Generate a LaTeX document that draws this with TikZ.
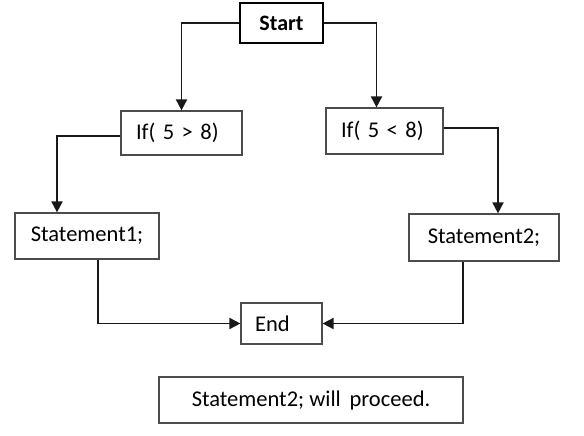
\documentclass[tikz,border=0pt]{standalone}
\usepackage{fontspec}
\setmainfont{Carlito}
\usepackage{tikz}
\usetikzlibrary{arrows.meta,positioning,calc}
\newcommand{\narrowspace}{\spaceskip=0.12em\relax}

\begin{document}
\begin{tikzpicture}[
    x=1pt, y=-1pt,
    box/.style={rectangle, draw=black!70, line width=1.2pt, inner sep=0pt, font=\fontsize{22.5}{26}\selectfont},
    startbox/.style={rectangle, draw=black, line width=2.8pt, inner sep=0pt, font=\fontsize{22}{26}\selectfont\bfseries},
    leftbox/.style={box, inner xsep=15pt, align=left, font=\fontsize{22.5}{26}\selectfont\narrowspace},
    flow/.style={draw=black!90, line width=1.8pt, -{Triangle[length=11pt, width=11pt]}}
]
\useasboundingbox (0,0) rectangle (584,436);

% Start
\node[startbox, minimum width=83pt, minimum height=40pt] (start) at (281.5,23) {Start};

% Conditions
\node[leftbox, text width=91pt, minimum height=44pt] (ifa) at (181.5,133) {If( 5 > 8)};
\node[leftbox, text width=87pt, minimum height=46pt] (ifb) at (384.5,131) {If( 5 < 8)};

% Statements
\node[box, minimum width=144pt, minimum height=46pt] (stmta) at (87,236) {Statement1;};
\node[box, minimum width=150pt, minimum height=47pt] (stmtb) at (484,237.5) {Statement2;};

% End
\node[box, minimum width=81pt, minimum height=41pt] (end) at (281.5,323.5) {\hspace*{-18pt}End};

% Result
\node[box, minimum width=304pt, minimum height=46pt] (result) at (311,400) {Statement2; will\, proceed.};

% Connectors
\draw[flow] (start.west) -| (ifa.north);
\draw[flow] (start.east) -| ([xshift=-8pt]ifb.north);
\draw[flow] ([yshift=-3pt]ifa.west) -| ([xshift=-30pt]stmta.north);
\draw[flow] ([yshift=3pt]ifb.east) -| ([xshift=14pt]stmtb.north);
\draw[flow] ([xshift=11pt]stmta.south) |- (end.west);
\draw[flow] ([xshift=-21pt]stmtb.south) |- (end.east);

\end{tikzpicture}
\end{document}
